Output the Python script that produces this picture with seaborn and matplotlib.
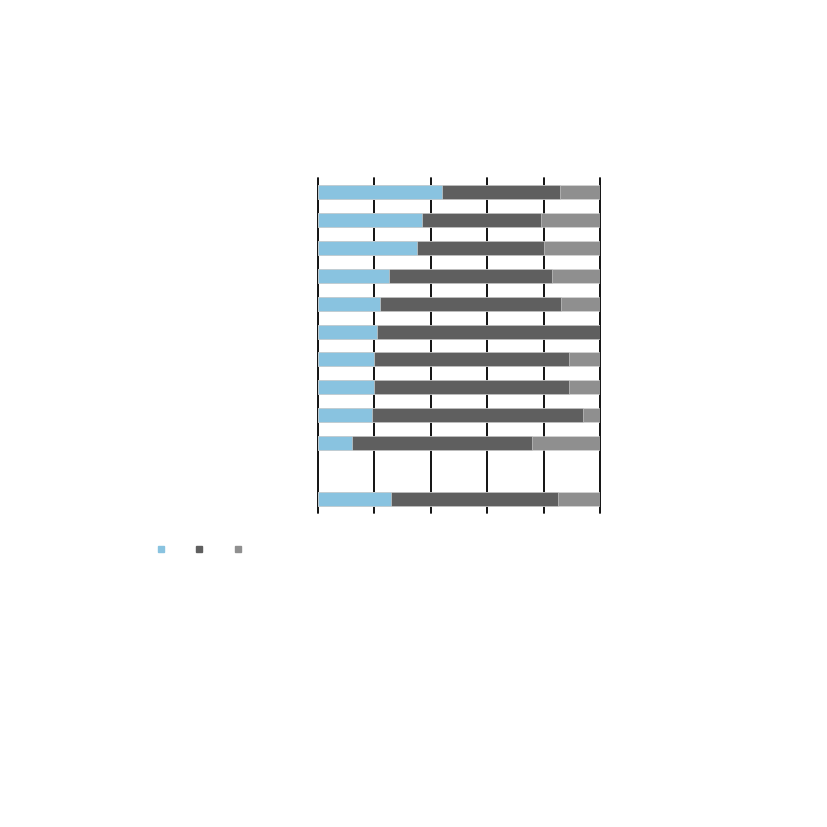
import numpy as np
import pandas as pd
import seaborn as sns
import matplotlib.pyplot as plt
from matplotlib.lines import Line2D

# rows top to bottom; row 11 is an empty spacer
categories = [f"r{i}" for i in range(1, 13)]
blue = [44, 37, 35, 25, 22, 21, 20, 20, 19, 12, np.nan, 26]
dark = [41.7, 42, 45, 58, 64, 79, 69, 69, 75, 64, np.nan, 59]
grey = [14.3, 21, 20, 17, 14, 0, 11, 11, 6, 24, np.nan, 15]

c_blue = "#89c3e0"
c_dark = "#5f5f5f"
c_grey = "#8f8f8f"

df = pd.DataFrame({"cat": categories, "blue": blue, "dark": dark, "grey": grey})
df["lvl2"] = df["blue"] + df["dark"]
df["lvl3"] = df["lvl2"] + df["grey"]

sns.set_style("white")
fig = plt.figure(figsize=(8.27, 8.27), dpi=100)
ax = fig.add_axes([318 / 827, 1 - 513 / 827, 282 / 827, 335 / 827])

kw = dict(y="cat", orient="h", order=categories, width=0.5, ax=ax,
          edgecolor="#d9d9d9", linewidth=0.4, saturation=1)
sns.barplot(data=df, x="lvl3", color=c_grey, **kw)
sns.barplot(data=df, x="lvl2", color=c_dark, **kw)
sns.barplot(data=df, x="blue", color=c_blue, **kw)

ax.set_xlim(0, 100)
ax.set_ylim(11.5, -0.5)
for xv in range(0, 101, 20):
    ax.axvline(xv, color="black", lw=1.3, zorder=0, clip_on=False)
ax.set_xlabel("")
ax.set_ylabel("")
ax.set_xticks([])
ax.set_yticks([])
for s in ax.spines.values():
    s.set_visible(False)

handles = [Line2D([], [], marker="s", ls="", color=c, markersize=4)
           for c in (c_blue, c_dark, c_grey)]
fig.legend(handles, ["", "", ""], ncol=3, frameon=False,
           loc="center left", bbox_to_anchor=(157 / 827, 1 - 550 / 827),
           handlelength=0.6, handletextpad=0.2, columnspacing=1.95,
           borderaxespad=0, borderpad=0)

fig.savefig("out.png", dpi=100)
